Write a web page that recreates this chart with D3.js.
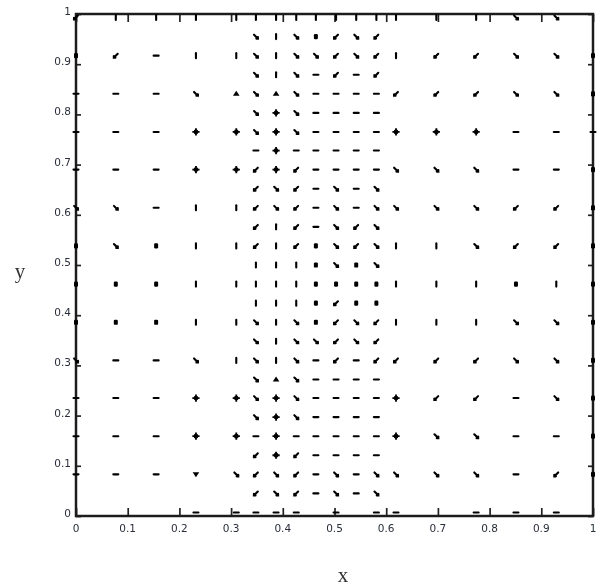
<!DOCTYPE html>
<html>
<head>
<meta charset="utf-8">
<script src="https://cdn.jsdelivr.net/npm/d3@7"></script>
<style>
  html, body { margin: 0; padding: 0; background: #fff; }
  svg { display: block; }
</style>
</head>
<body>
<svg id="chart" width="605" height="588"></svg>
<script>
// ---------- data ----------
// coarse grid (outside the refined strip)
const xCoarse = [0, 0.077, 0.155, 0.232, 0.310, 0.619, 0.697, 0.774, 0.851, 0.929, 1];
const yCoarse = [0.993, 0.917, 0.841, 0.765, 0.690, 0.614, 0.538, 0.462, 0.386, 0.310, 0.235, 0.159, 0.083, 0.007];
// glyph codes: h = horizontal, v = vertical, b = "\" diagonal, f = "/" diagonal,
// p = large cross, o = blob, A / V = up / down head, ' ' = nothing visible
const coarseGlyphs = [
  "fvvvvvvvbb ",
  "ofhvvvffbbo",
  "hhhbAfffbbo",
  "hhhppppphhh",
  "hhhppbbbhho",
  "bbhvvbbbffo",
  "obovvvvbffo",
  "ooovvvvvovo",
  "ooovvvvvbbo",
  "bhhbvfffbbo",
  "hhhpppffhbo",
  "hhhpppbbhho",
  "hhhVbbbbhfo",
  "   hhh hhh "
];
// refined strip
const xFine = [0.348, 0.387, 0.426, 0.464, 0.503, 0.542, 0.581];
const yFine = [0.993, 0.955, 0.917, 0.879, 0.841, 0.803, 0.765, 0.728, 0.690, 0.652, 0.614, 0.576,
               0.538, 0.500, 0.462, 0.424, 0.386, 0.348, 0.310, 0.272, 0.235, 0.197, 0.159,
               0.121, 0.083, 0.045, 0.007];
const fineGlyphs = [
  "vvvvvvv",
  "bvbofbf",
  "bvbbfbf",
  "bvbhfhf",
  "bAbhhhh",
  "bpbhhhh",
  "bpbhhhh",
  "hphhhhh",
  "fpfhhhh",
  "fbfhbhb",
  "fbfhbhb",
  "fvfhbfb",
  "fvfobfb",
  "vvvobob",
  "vvvoooo",
  "vvvofoo",
  "bvbofbf",
  "bvbbfbf",
  "bvbhfhf",
  "bAbhhhh",
  "bpbhhhh",
  "bpbhhhh",
  "hphhhhh",
  "fpfhhhh",
  "fbfhbhb",
  "fbfhbhb",
  "hhh h h"
];
const tickValues = [0, 0.1, 0.2, 0.3, 0.4, 0.5, 0.6, 0.7, 0.8, 0.9, 1];
const xLabel = "x";
const yLabel = "y";

// ---------- layout ----------
const svg = d3.select("#chart");
const pLeft = 76, pRight = 593, pTop = 14, pBottom = 516;
const x = d3.scaleLinear().domain([0, 1]).range([pLeft, pRight]);
const y = d3.scaleLinear().domain([0, 1]).range([pBottom, pTop]);

svg.append("rect").attr("width", 605).attr("height", 588).attr("fill", "#fff");

const defs = svg.append("defs");
defs.append("filter").attr("id", "soft")
  .attr("x", "-5%").attr("y", "-5%").attr("width", "110%").attr("height", "110%")
  .append("feGaussianBlur").attr("stdDeviation", 0.6);
defs.append("filter").attr("id", "softer")
  .attr("x", "-5%").attr("y", "-5%").attr("width", "110%").attr("height", "110%")
  .append("feGaussianBlur").attr("stdDeviation", 0.75);

const g = svg.append("g").attr("filter", "url(#soft)");

// build point list
const points = [];
yCoarse.forEach((yv, r) => {
  xCoarse.forEach((xv, c) => {
    const code = coarseGlyphs[r][c];
    if (code && code !== " ") points.push({ x: xv, y: yv, code });
  });
});
yFine.forEach((yv, r) => {
  xFine.forEach((xv, c) => {
    const code = fineGlyphs[r][c];
    if (code && code !== " ") points.push({ x: xv, y: yv, code });
  });
});

const glyphPath = {
  h: "M-2.5,0L2.5,0",
  v: "M0,-2.5L0,2.5",
  b: "M-1.9,-1.9L1.9,1.9M0.4,2L2,2L2,0.4",
  f: "M-1.9,1.9L1.9,-1.9M-2,0.4L-2,2L-0.4,2",
  p: "M-3.6,0L3.6,0M0,-3.6L0,3.6"
};

const marks = svg.append("g").attr("class", "marks").attr("filter", "url(#softer)");
points.forEach(p => {
  const t = marks.append("g").attr("transform", `translate(${x(p.x)},${y(p.y)})`);
  if (p.code === "o") {
    t.append("rect").attr("x", -2).attr("y", -2.6).attr("width", 4).attr("height", 5.2)
      .attr("rx", 1.2).attr("fill", "#000");
  } else if (p.code === "A") {
    t.append("path").attr("d", "M0,-3L3.3,2L-3.3,2Z").attr("fill", "#000");
  } else if (p.code === "V") {
    t.append("path").attr("d", "M0,3L3.3,-2L-3.3,-2Z").attr("fill", "#000");
  } else if (p.code === "p") {
    t.append("path").attr("d", glyphPath.p).attr("stroke", "#000").attr("stroke-width", 1.8);
    t.append("circle").attr("r", 2.4).attr("fill", "#000");
  } else {
    t.append("path").attr("d", glyphPath[p.code]).attr("stroke", "#000")
      .attr("stroke-width", 2.1)
      .attr("fill", "none").attr("stroke-linecap", "round");
  }
});

// axes: box with inward ticks
const axisG = g.append("g").attr("class", "axes");
const xBottom = d3.axisBottom(x).tickValues(tickValues).tickSize(-8).tickFormat("");
const xTop = d3.axisTop(x).tickValues(tickValues).tickSize(-8).tickFormat("");
const yLeft = d3.axisLeft(y).tickValues(tickValues).tickSize(-5).tickFormat("");
const yRight = d3.axisRight(y).tickValues(tickValues).tickSize(-5).tickFormat("");
axisG.append("g").attr("transform", `translate(0,${pBottom})`).call(xBottom);
axisG.append("g").attr("transform", `translate(0,${pTop})`).call(xTop);
axisG.append("g").attr("transform", `translate(${pLeft},0)`).call(yLeft);
axisG.append("g").attr("transform", `translate(${pRight},0)`).call(yRight);
axisG.selectAll(".domain").remove();
axisG.selectAll(".tick line").attr("stroke", "#222").attr("stroke-width", 1.7);
axisG.append("rect").attr("x", pLeft).attr("y", pTop)
  .attr("width", pRight - pLeft).attr("height", pBottom - pTop)
  .attr("fill", "none").attr("stroke", "#1a1a1a").attr("stroke-width", 2.5);

const fmt = v => (v === 0 ? "0" : v === 1 ? "1" : d3.format(".1f")(v));
const labels = g.append("g").attr("font-family", "DejaVu Sans, sans-serif")
  .attr("font-size", 10.5).attr("fill", "#2a2f3a");
labels.selectAll(".xl").data(tickValues).enter().append("text")
  .attr("x", d => x(d)).attr("y", pBottom + 16)
  .attr("text-anchor", "middle").text(fmt);
labels.selectAll(".yl").data(tickValues).enter().append("text")
  .attr("x", pLeft - 5).attr("y", d => y(d) + 1)
  .attr("text-anchor", "end").text(fmt);

g.append("text").attr("x", 343).attr("y", 582)
  .attr("font-family", "Liberation Serif, serif").attr("font-size", 21)
  .attr("text-anchor", "middle").attr("fill", "#333").text(xLabel);
g.append("text").attr("x", 20).attr("y", 278)
  .attr("font-family", "Liberation Serif, serif").attr("font-size", 21)
  .attr("text-anchor", "middle").attr("fill", "#333").text(yLabel);
</script>
</body>
</html>
